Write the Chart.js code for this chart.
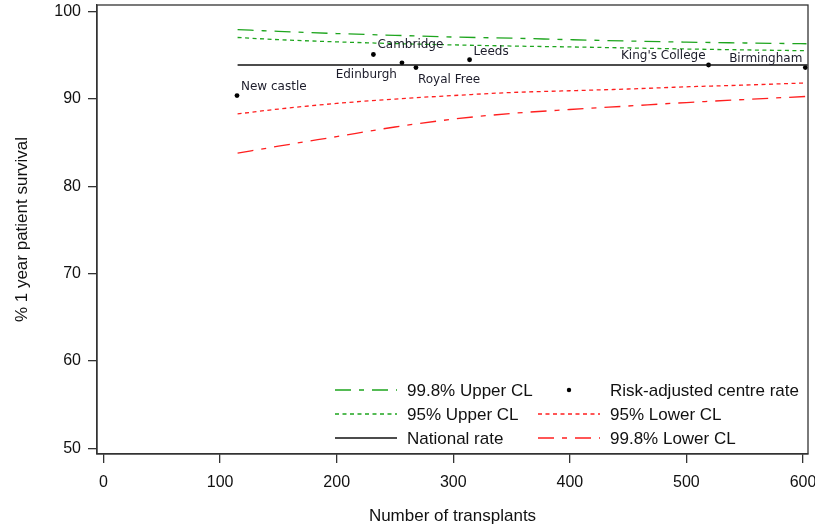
<!DOCTYPE html>
<html lang="en">
<head>
    <meta charset="UTF-8">
    <title>Funnel plot - 1 year patient survival</title>
    <script src="https://cdn.jsdelivr.net/npm/chart.js"></script>
    <style>
        html, body {
            margin: 0;
            padding: 0;
            background: #fff;
        }
        .wrap {
            width: 815px;
            height: 528px;
            position: relative;
        }
    </style>
</head>
<body>
    <div class="wrap">
        <canvas id="myChart"></canvas>
    </div>

    <script>
// ---- data ----
const limitN = [115, 150, 200, 250, 300, 350, 400, 450, 500, 550, 603];
const upper998 = [97.95, 97.75, 97.5, 97.3, 97.1, 96.97, 96.8, 96.65, 96.52, 96.42, 96.33];
const upper95 = [97.05, 96.8, 96.55, 96.35, 96.2, 96.07, 95.97, 95.85, 95.73, 95.63, 95.53];
const lower95 = [88.3, 88.85, 89.5, 90.0, 90.4, 90.75, 90.95, 91.15, 91.4, 91.6, 91.85];
const lower998 = [83.8, 84.6, 85.7, 86.8, 87.7, 88.35, 88.8, 89.2, 89.6, 89.95, 90.3];

const nationalN = [115, 604];
const nationalRate = [93.9, 93.9];

const centreNames = ['New castle', 'Cambridge', 'Edinburgh', 'Royal Free', 'Leeds', "King's College", 'Birmingham'];
const centreN = [114.5, 231.5, 256, 268, 314, 519, 602];
const centreRate = [90.4, 95.1, 94.15, 93.6, 94.5, 93.9, 93.6];

const xTicks = [0, 100, 200, 300, 400, 500, 600];
const yTicks = [50, 60, 70, 80, 90, 100];

const FONT = "'Liberation Sans', Arial, sans-serif";
const GREEN = '#1ea51e';
const RED = '#ff1f1f';
const AXIS = '#333';

function pts(xs, ys) {
    return xs.map((x, i) => ({ x: x, y: ys[i] }));
}

// where each centre label sits relative to its dot: [dx, dy, align]
const labelPlace = [
    [4, -9, 'left'],
    [4, -10, 'left'],
    [-5, 12, 'right'],
    [2, 12, 'left'],
    [4, -8, 'left'],
    [-3, -9, 'right'],
    [-3, -9, 'right']
];

// legend layout: [datasetIndex, column, row]
const legendSlots = [
    [0, 0, 0], [1, 0, 1], [4, 0, 2],
    [5, 1, 0], [2, 1, 1], [3, 1, 2]
];

const boxPlugin = {
    id: 'boxPlugin',
    afterDraw(chart) {
        const { ctx, chartArea: a } = chart;
        ctx.save();
        ctx.strokeStyle = AXIS;
        ctx.lineWidth = 1.3;
        ctx.strokeRect(a.left, a.top, a.right - a.left, a.bottom - a.top);
        ctx.restore();
    }
};

const centreLabels = {
    id: 'centreLabels',
    afterDatasetsDraw(chart) {
        const { ctx } = chart;
        const xs = chart.scales.x, ys = chart.scales.y;
        ctx.save();
        ctx.font = "12px 'DejaVu Sans', Verdana, sans-serif";
        ctx.fillStyle = '#1c1c2a';
        ctx.textBaseline = 'middle';
        centreNames.forEach((name, i) => {
            const p = labelPlace[i];
            ctx.textAlign = p[2];
            ctx.fillText(name, xs.getPixelForValue(centreN[i]) + p[0], ys.getPixelForValue(centreRate[i]) + p[1]);
        });
        ctx.restore();
    }
};

const insideLegend = {
    id: 'insideLegend',
    afterDraw(chart) {
        const { ctx } = chart;
        const colX = [335, 538];
        const rowY = [390, 414, 438];
        ctx.save();
        ctx.font = '17px ' + FONT;
        ctx.textBaseline = 'middle';
        ctx.textAlign = 'left';
        legendSlots.forEach(s => {
            const ds = chart.data.datasets[s[0]];
            const x0 = colX[s[1]], y = rowY[s[2]];
            if (ds.showLine === false) {
                ctx.fillStyle = '#000';
                ctx.beginPath();
                ctx.arc(x0 + 31, y, 2.2, 0, Math.PI * 2);
                ctx.fill();
            } else {
                ctx.strokeStyle = ds.borderColor;
                ctx.lineWidth = ds.borderWidth;
                ctx.setLineDash(ds.borderDash || []);
                ctx.beginPath();
                ctx.moveTo(x0, y);
                ctx.lineTo(x0 + 62, y);
                ctx.stroke();
                ctx.setLineDash([]);
            }
            ctx.fillStyle = '#111';
            ctx.fillText(ds.label, x0 + 72, y + 1);
        });
        ctx.restore();
    }
};

const lineDs = (label, xs, ys, color, dash) => ({
    label: label,
    data: pts(xs, ys),
    showLine: true,
    borderColor: color,
    backgroundColor: color,
    borderWidth: 1.3,
    borderDash: dash,
    pointRadius: 0,
    cubicInterpolationMode: 'monotone',
    fill: false
});

const ctx = document.getElementById('myChart');
new Chart(ctx, {
    type: 'scatter',
    data: {
        datasets: [
            lineDs('99.8% Upper CL', limitN, upper998, GREEN, [16, 8, 5, 8]),
            lineDs('95% Upper CL', limitN, upper95, GREEN, [4, 3.5]),
            lineDs('95% Lower CL', limitN, lower95, RED, [4, 3.5]),
            lineDs('99.8% Lower CL', limitN, lower998, RED, [16, 8, 5, 8]),
            lineDs('National rate', nationalN, nationalRate, '#111', []),
            {
                label: 'Risk-adjusted centre rate',
                data: pts(centreN, centreRate),
                showLine: false,
                pointRadius: 2.4,
                pointBackgroundColor: '#000',
                pointBorderWidth: 0
            }
        ]
    },
    options: {
        responsive: true,
        maintainAspectRatio: false,
        animation: false,
        devicePixelRatio: 1,
        layout: { padding: { top: 5, right: 7, left: 0, bottom: 0 } },
        plugins: {
            legend: { display: false },
            tooltip: { enabled: false }
        },
        scales: {
            x: {
                type: 'linear',
                min: -5.6,
                max: 604.3,
                afterBuildTicks: scale => { scale.ticks = xTicks.map(v => ({ value: v })); },
                afterFit: scale => {
                    scale.height = 74;
                    scale.paddingLeft = 0;
                    scale.paddingRight = 0;
                },
                grid: { drawOnChartArea: false, drawTicks: true, tickLength: 9, color: AXIS, lineWidth: 1.3 },
                border: { display: true, color: AXIS, width: 1.3 },
                ticks: { font: { family: FONT, size: 16 }, color: '#111', padding: 10, maxRotation: 0 },
                title: {
                    display: true,
                    text: 'Number of transplants',
                    font: { family: FONT, size: 17 },
                    color: '#111',
                    padding: { top: 0, bottom: 1 }
                }
            },
            y: {
                min: 49.35,
                max: 100.77,
                afterBuildTicks: scale => { scale.ticks = yTicks.map(v => ({ value: v })); },
                afterFit: scale => {
                    scale.width = 97;
                    scale.paddingTop = 0;
                    scale.paddingBottom = 0;
                },
                grid: { drawOnChartArea: false, drawTicks: true, tickLength: 9, color: AXIS, lineWidth: 1.3 },
                border: { display: true, color: AXIS, width: 1.3 },
                ticks: { font: { family: FONT, size: 16 }, color: '#111', padding: 7 },
                title: {
                    display: true,
                    text: '% 1 year patient survival',
                    font: { family: FONT, size: 17 },
                    color: '#111',
                    padding: { top: 12, bottom: 0 }
                }
            }
        }
    },
    plugins: [boxPlugin, centreLabels, insideLegend]
});
    </script>
</body>
</html>
